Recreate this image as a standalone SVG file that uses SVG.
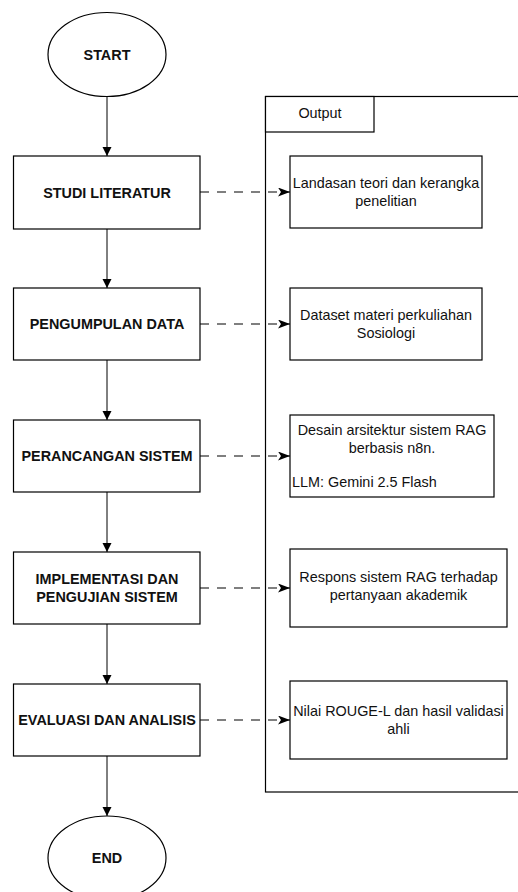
<svg xmlns="http://www.w3.org/2000/svg" width="518" height="892" viewBox="0 0 518 892">
  <style>
    .shape { fill: #ffffff; stroke: #000000; stroke-width: 1.2; }
    .lbl { font-family: "Liberation Sans", Arial, sans-serif; font-size: 14.4px; font-weight: bold; fill: #111111; text-anchor: middle; }
    .txt { font-family: "Liberation Sans", Arial, sans-serif; font-size: 14.4px; fill: #111111; text-anchor: middle; }
    .flow { fill: none; stroke: #000000; stroke-width: 1; }
    .dash { fill: none; stroke: #000000; stroke-width: 1.2; stroke-dasharray: 9 8; }
  </style>
  <defs>
    <marker id="tri" markerUnits="userSpaceOnUse" markerWidth="10" markerHeight="10" refX="9" refY="4.5" orient="auto">
      <path d="M0,0 L9,4.5 L0,9 Z" fill="#000000"/>
    </marker>
    <marker id="classic" markerUnits="userSpaceOnUse" markerWidth="13" markerHeight="10" refX="12" refY="4.5" orient="auto">
      <path d="M0,0 L12,4.5 L0,9 L3,4.5 Z" fill="#000000"/>
    </marker>
  </defs>

  <g id="output-container">
    <rect class="shape" x="265.5" y="96.5" width="320" height="695.5" fill="none"/>
    <rect class="shape" x="265.5" y="96.5" width="108.5" height="35.5"/>
    <text class="txt" x="320" y="118">Output</text>
  </g>

  <g id="connectors">
    <line class="flow" x1="107" y1="97" x2="107" y2="156" marker-end="url(#tri)"/>
    <line class="flow" x1="107" y1="229" x2="107" y2="288" marker-end="url(#tri)"/>
    <line class="flow" x1="107" y1="360" x2="107" y2="420" marker-end="url(#tri)"/>
    <line class="flow" x1="107" y1="492" x2="107" y2="552" marker-end="url(#tri)"/>
    <line class="flow" x1="107" y1="624" x2="107" y2="684" marker-end="url(#tri)"/>
    <line class="flow" x1="107" y1="756" x2="107" y2="816" marker-end="url(#tri)"/>
    <line class="dash" x1="200" y1="192" x2="290" y2="192" marker-end="url(#classic)"/>
    <line class="dash" x1="200" y1="324" x2="290" y2="324" marker-end="url(#classic)"/>
    <line class="dash" x1="200" y1="456" x2="290" y2="456" marker-end="url(#classic)"/>
    <line class="dash" x1="200" y1="588" x2="290" y2="588" marker-end="url(#classic)"/>
    <line class="dash" x1="200" y1="720" x2="290" y2="720" marker-end="url(#classic)"/>
  </g>

  <g id="start">
    <ellipse class="shape" cx="107" cy="54.5" rx="59" ry="42"/>
    <text class="lbl" x="107" y="59.5">START</text>
  </g>

  <g id="studi-literatur">
    <rect class="shape" x="13.5" y="156" width="186.5" height="73"/>
    <text class="lbl" x="107" y="197.5">STUDI LITERATUR</text>
  </g>

  <g id="pengumpulan-data">
    <rect class="shape" x="13.5" y="288" width="186.5" height="72"/>
    <text class="lbl" x="107" y="329">PENGUMPULAN DATA</text>
  </g>

  <g id="perancangan-sistem">
    <rect class="shape" x="13.5" y="420" width="186.5" height="72"/>
    <text class="lbl" x="107" y="460.5">PERANCANGAN SISTEM</text>
  </g>

  <g id="implementasi">
    <rect class="shape" x="13.5" y="552" width="186.5" height="72"/>
    <text class="lbl" x="107" y="584">IMPLEMENTASI DAN</text>
    <text class="lbl" x="107" y="602">PENGUJIAN SISTEM</text>
  </g>

  <g id="evaluasi">
    <rect class="shape" x="13.5" y="684" width="186.5" height="72"/>
    <text class="lbl" x="107" y="724.5">EVALUASI DAN ANALISIS</text>
  </g>

  <g id="end">
    <ellipse class="shape" cx="107" cy="858" rx="59" ry="42"/>
    <text class="lbl" x="107" y="862.5">END</text>
  </g>

  <g id="out-landasan">
    <rect class="shape" x="290" y="156" width="192" height="72"/>
    <text class="txt" x="386" y="188">Landasan teori dan kerangka</text>
    <text class="txt" x="386" y="206">penelitian</text>
  </g>

  <g id="out-dataset">
    <rect class="shape" x="290" y="288" width="192" height="72"/>
    <text class="txt" x="386" y="320">Dataset materi perkuliahan</text>
    <text class="txt" x="386" y="338">Sosiologi</text>
  </g>

  <g id="out-desain">
    <rect class="shape" x="290" y="415" width="204" height="82"/>
    <text class="txt" x="392" y="435">Desain arsitektur sistem RAG</text>
    <text class="txt" x="392" y="452.5">berbasis n8n.</text>
    <text class="txt" x="292" y="487" style="text-anchor:start">LLM: Gemini 2.5 Flash</text>
  </g>

  <g id="out-respons">
    <rect class="shape" x="290" y="549" width="217" height="78"/>
    <text class="txt" x="398.5" y="582">Respons sistem RAG terhadap</text>
    <text class="txt" x="398.5" y="600">pertanyaan akademik</text>
  </g>

  <g id="out-nilai">
    <rect class="shape" x="290" y="681" width="217" height="78"/>
    <text class="txt" x="398.5" y="716">Nilai ROUGE-L dan hasil validasi</text>
    <text class="txt" x="398.5" y="734">ahli</text>
  </g>
</svg>
